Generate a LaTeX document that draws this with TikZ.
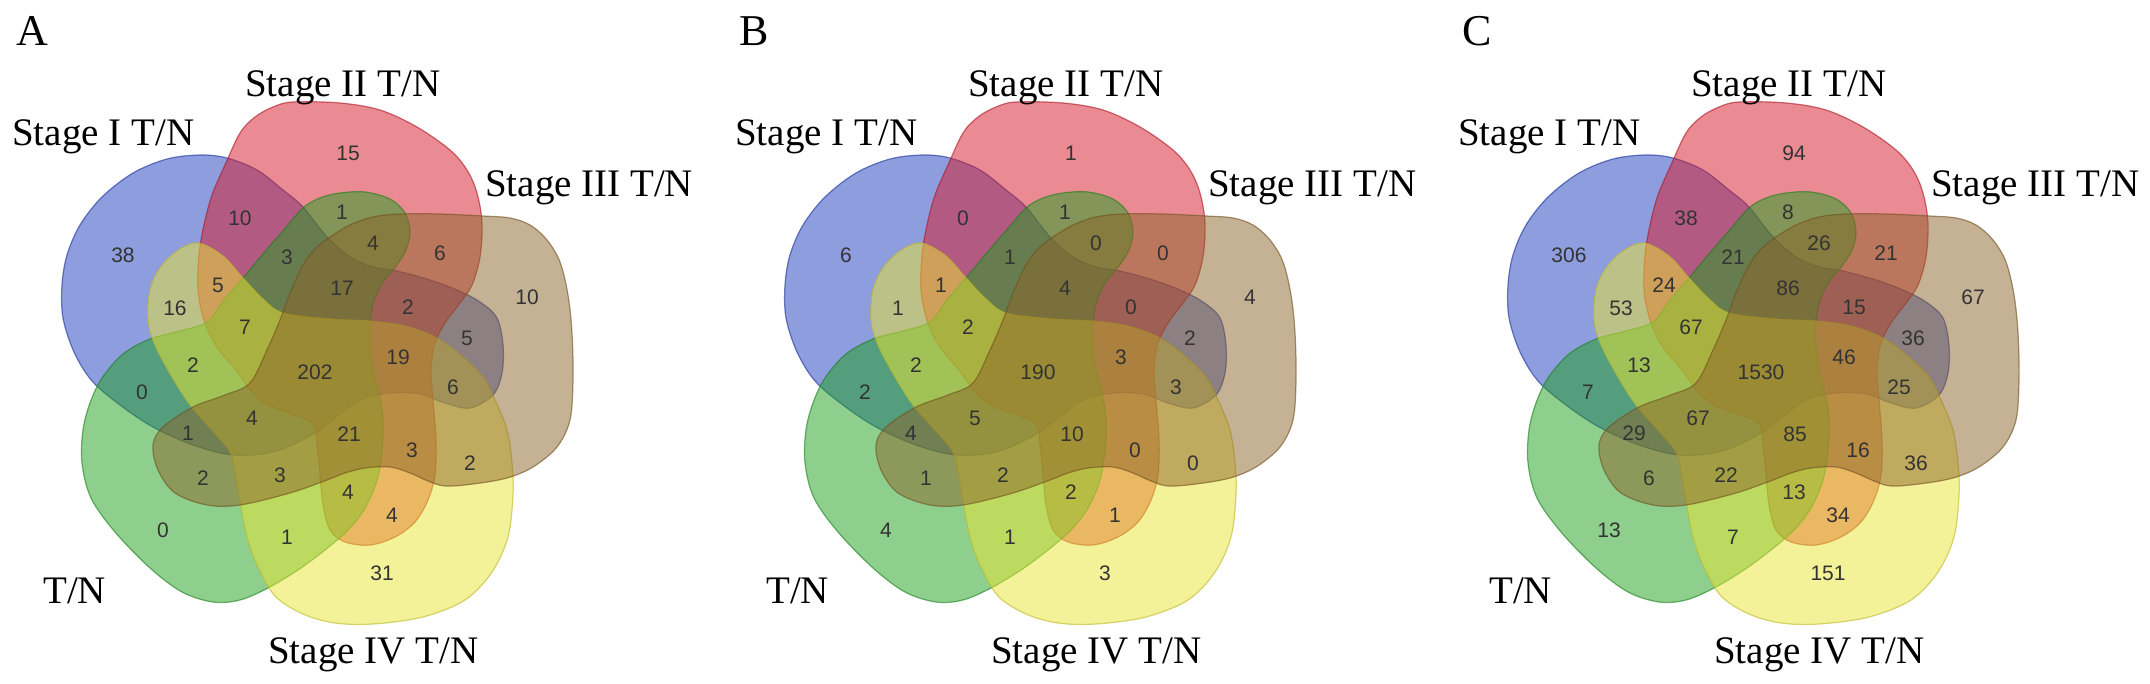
\documentclass[tikz,border=0pt]{standalone}
\usepackage{fontspec}
\setmainfont{Liberation Serif}
\newfontfamily\numfont{Liberation Sans}
\definecolor{cBlue}{RGB}{30,60,190}
\definecolor{cRed}{RGB}{215,25,40}
\definecolor{cGreen}{RGB}{30,160,30}
\definecolor{cBrown}{RGB}{140,100,40}
\definecolor{cYellow}{RGB}{235,230,50}
\begin{document}
\begin{tikzpicture}[x=1pt,y=-1pt,
  setshape/.style={fill=#1, fill opacity=0.5, draw=#1!80!black, draw opacity=0.6, line width=1.2pt},
  num/.style={font=\numfont\fontsize{21}{21}\selectfont, text=black!80, inner sep=0pt},
  lbl/.style={font=\fontsize{39}{39}\selectfont, inner sep=0pt, anchor=base west},
  letter/.style={font=\fontsize{44}{44}\selectfont, inner sep=0pt, anchor=base west}]
\fill[white] (0,0) rectangle (2150,684);
\useasboundingbox (0,0) rectangle (2150,684);
\foreach \k/\L/\sx in {0/A/0,1/B/723,2/C/1446}{
\begin{scope}[xshift=\sx pt]
% Stage I (blue)
\draw[setshape=cBlue] plot[smooth cycle, tension=0.55] coordinates {
(200,155) (227,158) (257,170) (283,190) (303,207) (327,237) (350,257) (373,267) (397,271) (430,280) (457,290) (480,302) (497,318) (503,345) (502,373) (493,395) (470,408) (445,403) (420,394) (390,393) (360,400) (335,418) (310,436) (273,452) (233,455) (193,445) (153,427) (120,405) (92,381) (74,352) (63,318) (62,285) (67,255) (80,225) (102,197) (133,173) (167,159)};
% Stage II (red)
\draw[setshape=cRed] plot[smooth cycle, tension=0.55] coordinates {
(293,102) (340,103) (380,110) (417,127) (450,150) (467,170) (477,193) (482,223) (480,257) (472,285) (460,303) (445,323) (435,343) (431,370) (433,400) (436,440) (435,475) (428,500) (415,522) (395,537) (370,545) (345,542) (330,530) (323,505) (320,475) (317,445) (313,424) (292,414) (268,405) (252,392) (236,370) (216,346) (204,320) (198,290) (199,255) (204,225) (212,195) (225,165) (240,133) (255,117) (273,107)};
% T/N (green)
\draw[setshape=cGreen] plot[smooth cycle, tension=0.55] coordinates {
(340,193) (365,192) (390,199) (405,213) (410,232) (406,250) (396,266) (383,282) (374,300) (370,322) (370,345) (373,370) (379,393) (383,420) (382,450) (377,480) (365,508) (348,530) (325,550) (298,570) (268,588) (240,600) (213,602) (182,592) (150,568) (115,532) (91,498) (82,463) (83,430) (90,403) (102,378) (123,354) (150,339) (180,331) (207,322) (224,300) (243,278) (262,255) (282,232) (303,208) (320,198)};
% Stage IV (yellow)
\draw[setshape=cYellow] plot[smooth cycle, tension=0.55] coordinates {
(198,243) (223,256) (243,278) (263,299) (283,313) (330,319) (370,321) (405,326) (437,338) (463,357) (483,377) (495,400) (507,430) (512,463) (513,495) (508,537) (492,572) (465,600) (423,617) (373,624) (335,623) (303,614) (275,596) (257,565) (247,537) (241,507) (236,478) (230,452) (212,430) (190,405) (172,377) (155,345) (148,320) (150,290) (160,268) (177,251)};
% Stage III (brown)
\draw[setshape=cBrown] plot[smooth cycle, tension=0.55] coordinates {
(330,237) (350,225) (373,217) (400,214) (440,214) (483,216) (510,218) (530,225) (547,240) (560,262) (568,295) (572,333) (573,380) (570,420) (557,447) (533,467) (507,478) (473,484) (445,486) (428,481) (410,473) (390,467) (365,468) (345,473) (327,480) (290,493) (240,505) (207,505) (175,493) (158,470) (153,445) (163,427) (193,407) (225,395) (250,383) (267,350) (280,320) (290,293) (303,265) (315,249)};
% labels
\node[letter] (let\L) at (16,46) {\L};
\node[lbl] (sI\L) at (12,146) {Stage I T/N};
\node[lbl] (sII\L) at (245,97) {Stage II T/N};
\node[lbl] (sIII\L) at (485,197) {Stage III T/N};
\node[lbl] (tn\L) at (43,603) {T/N};
\node[lbl] (sIV\L) at (268,663) {Stage IV T/N};
\end{scope}
}
\foreach \x/\y/\a/\b/\c [count=\i] in {
123/255/38/6/306, 348/153/15/1/94, 240/218/10/0/38, 342/212/1/1/8,
287/257/3/1/21, 342/288/17/4/86, 175/308/16/1/53, 218/285/5/1/24,
245/327/7/2/67, 193/365/2/2/13, 315/372/202/190/1530, 142/392/0/2/7,
373/243/4/0/26, 440/253/6/0/21, 527/297/10/4/67, 408/307/2/0/15,
467/338/5/2/36, 398/357/19/3/46, 453/387/6/3/25, 188/433/1/4/29,
252/418/4/5/67, 349/434/21/10/85, 203/478/2/1/6, 280/475/3/2/22,
348/492/4/2/13, 412/450/3/0/16, 470/463/2/0/36, 392/515/4/1/34,
163/530/0/4/13, 287/537/1/1/7, 382/573/31/3/151}{
\node[num] (a\i) at (\x,\y) {\a};
\node[num] (b\i) at ({\x+723},\y) {\b};
\node[num] (c\i) at ({\x+1446},\y) {\c};
}
\end{tikzpicture}
\end{document}
